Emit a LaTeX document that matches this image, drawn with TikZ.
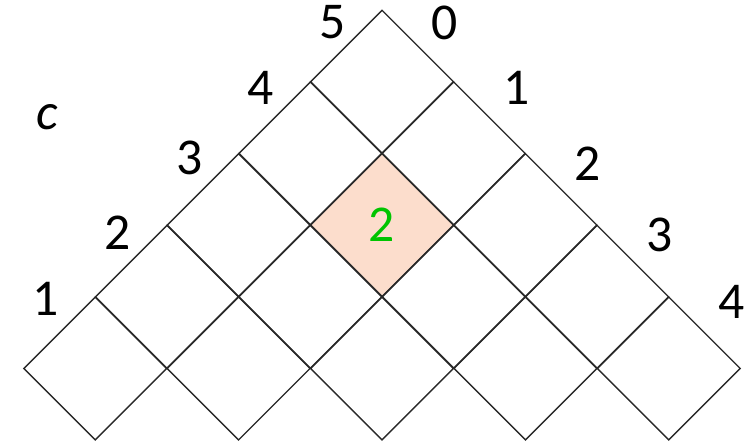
\documentclass[tikz,border=0pt]{standalone}
\usepackage{fontspec}
\setmainfont{Carlito}
\usetikzlibrary{shapes.geometric}
\definecolor{peach}{RGB}{252, 221, 204}
\definecolor{textgreen}{RGB}{0, 196, 0}
\definecolor{gridline}{RGB}{40, 40, 40}

\begin{document}
\begin{tikzpicture}[font=\fontsize{20.5}{24}\selectfont,
  cell/.style={shape=diamond, draw=gridline, line width=0.55pt, minimum width=2cm, minimum height=2cm, inner sep=0pt},
  hotcell/.style={cell, fill=peach},
  edgenum/.style={inner sep=1pt}]
  \useasboundingbox (-5.328,-6.056) rectangle (5.188,0.139);

  % triangle of cells, row r has r+1 cells
  \foreach \r in {0,...,4}{
    \foreach \c in {0,...,\r}{
      \ifnum\r\c=21 \def\cellstyle{hotcell}\else\def\cellstyle{cell}\fi
      \node[\cellstyle] (cell-\r-\c) at ({2*\c-\r},{-\r-1}) {};
    }
  }
  \node[text=textgreen] (val) at (cell-2-1) {2};

  % numbers along the two upper edges
  \foreach \k/\dy in {1/-0.03, 2/-0.1, 3/-0.06, 4/-0.08, 5/-0.17}
    \node[edgenum] (lab-l-\k) at ({\k-5-0.69},{\k-5+\dy}) {\k};
  \foreach \k/\dy in {0/-0.18, 1/-0.08, 2/-0.14, 3/-0.14, 4/-0.07}
    \node[edgenum] (lab-r-\k) at ({\k+0.87},{-\k+\dy}) {\k};

  \node[font=\fontsize{20.5}{24}\selectfont\itshape] (axis-c) at (-4.672,-1.5) {c};
\end{tikzpicture}
\end{document}
